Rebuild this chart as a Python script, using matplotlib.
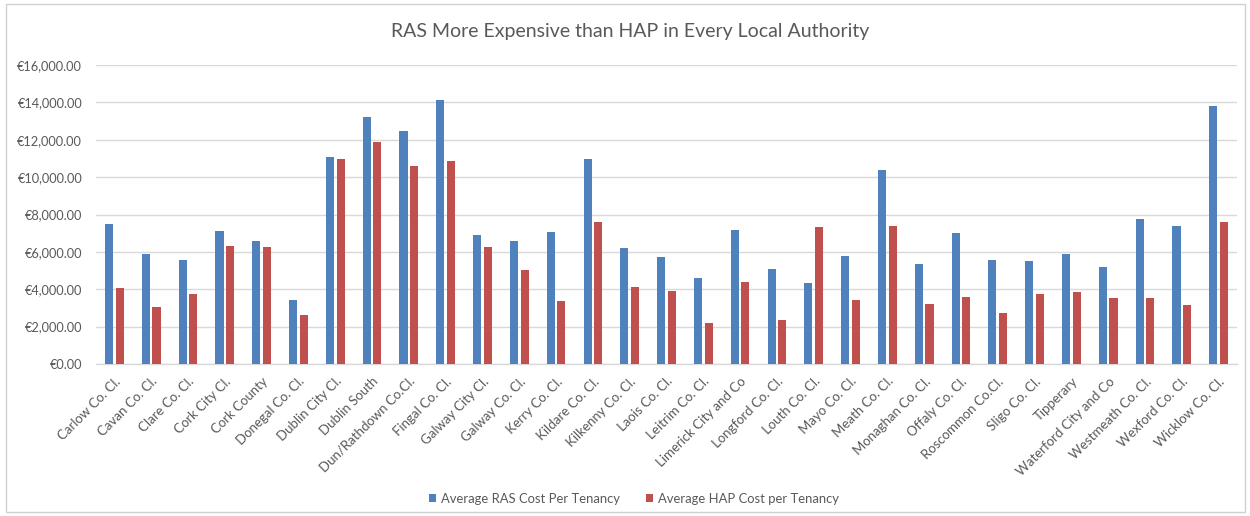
import matplotlib
matplotlib.use("Agg")
import matplotlib.pyplot as plt
import numpy as np
from matplotlib.ticker import FuncFormatter
from matplotlib.patches import Rectangle

plt.rcParams['font.family'] = ['Lato', 'DejaVu Sans']

categories = ["Carlow Co. Cl.", "Cavan Co. Cl.", "Clare Co. Cl.", "Cork City Cl.", "Cork County",
              "Donegal Co. Cl.", "Dublin City Cl.", "Dublin South", "Dun/Rathdown Co.Cl.", "Fingal Co. Cl.",
              "Galway City Cl.", "Galway Co. Cl.", "Kerry Co. Cl.", "Kildare Co. Cl.", "Kilkenny Co. Cl.",
              "Laois Co. Cl.", "Leitrim Co. Cl.", "Limerick City and Co", "Longford Co. Cl.", "Louth Co. Cl.",
              "Mayo Co. Cl.", "Meath Co. Cl.", "Monaghan Co. Cl.", "Offaly Co. Cl.", "Roscommon Co.Cl.",
              "Sligo Co. Cl.", "Tipperary", "Waterford City and Co", "Westmeath Co. Cl.", "Wexford Co. Cl.",
              "Wicklow Co. Cl."]

ras = [7510, 5870, 5580, 7140, 6560, 3410, 11060, 13210, 12450, 14140,
       6890, 6580, 7070, 10950, 6190, 5750, 4610, 7170, 5090, 4360,
       5780, 10400, 5340, 7000, 5570, 5530, 5870, 5190, 7760, 7400, 13780]

hap = [4070, 3050, 3750, 6320, 6260, 2640, 10990, 11860, 10570, 10840,
       6240, 5010, 3370, 7620, 4100, 3890, 2200, 4410, 2380, 7310,
       3410, 7370, 3230, 3590, 2750, 3730, 3840, 3550, 3550, 3180, 7580]

series_names = ["Average RAS Cost Per Tenancy", "Average HAP Cost per Tenancy"]
title = "RAS More Expensive than HAP in Every Local Authority"

blue = "#4F81BD"
red = "#C0504D"
text_col = "#595959"
grid_col = "#D9D9D9"

fig = plt.figure(figsize=(12.5, 5.16), dpi=100)
ax = fig.add_axes([96/1250, 1-364/516, (1237-96)/1250, (364-65)/516])

x = np.arange(len(categories))
w = 0.22
off = 0.145
ax.bar(x - off, ras, width=w, color=blue, label=series_names[0], zorder=3)
ax.bar(x + off, hap, width=w, color=red, label=series_names[1], zorder=3)

ax.set_xlim(-0.5, len(categories) - 0.5)
ax.set_ylim(0, 16000)
ax.set_yticks(np.arange(0, 16001, 2000))
ax.yaxis.set_major_formatter(FuncFormatter(lambda v, p: "€{:,.2f}".format(v)))
ax.grid(axis='y', color=grid_col, linewidth=1.0, zorder=0)
for s in ['top', 'right', 'left']:
    ax.spines[s].set_visible(False)
ax.spines['bottom'].set_color(grid_col)
ax.spines['bottom'].set_linewidth(1.0)
ax.tick_params(axis='y', length=0, pad=10, labelsize=9.2, labelcolor=text_col)
ax.tick_params(axis='x', length=0, pad=8, labelsize=9.5, labelcolor=text_col)
ax.set_xticks(x)
ax.set_xticklabels(categories, rotation=45, ha='right', rotation_mode='anchor')

fig.text(630/1250, 1-32/516, title, ha='center', va='center', fontsize=14, color=text_col)

leg = fig.legend(loc='center', bbox_to_anchor=(634/1250, 1-499/516), ncol=2, frameon=False,
                 fontsize=9.4, labelcolor=text_col, handlelength=0.55, handleheight=0.55,
                 handletextpad=0.35, columnspacing=2.0)

fig.patches.append(Rectangle((6/1250, 4/516), 1239/1250, 508/516, transform=fig.transFigure,
                             fill=False, edgecolor="#D0D0D0", linewidth=1.0))

fig.savefig("out.png", dpi=100)
